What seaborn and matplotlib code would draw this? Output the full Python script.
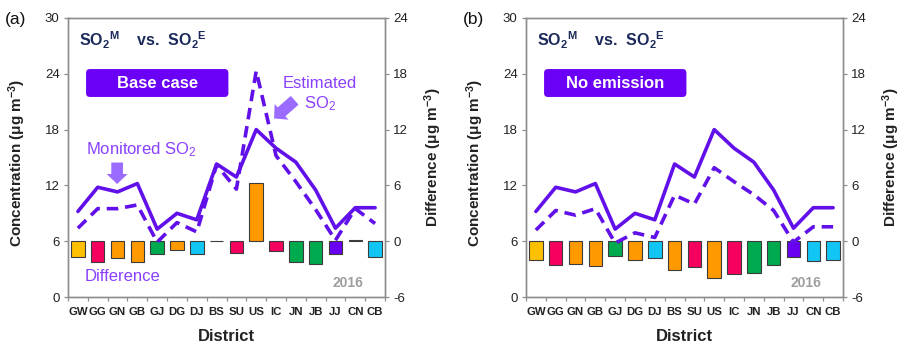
import numpy as np
import pandas as pd
import matplotlib
matplotlib.use("Agg")
import matplotlib.pyplot as plt
import seaborn as sns
from matplotlib.patches import FancyBboxPatch

# ---------------- data ----------------
districts = ["GW", "GG", "GN", "GB", "GJ", "DG", "DJ", "BS",
             "SU", "US", "IC", "JN", "JB", "JJ", "CN", "CB"]
monitored = [9.2, 11.8, 11.3, 12.2, 7.3, 9.0, 8.3, 14.3,
             12.9, 18.0, 16.0, 14.5, 11.5, 7.4, 9.6, 9.6]
estimated_base = [7.4, 9.5, 9.5, 9.9, 5.9, 8.0, 7.0, 14.2,
                  11.6, 24.3, 15.2, 12.4, 9.4, 6.1, 9.5, 7.9]
estimated_noemis = [7.2, 9.3, 8.8, 9.5, 5.8, 6.9, 6.4, 10.95,
                    10.0, 13.9, 12.4, 11.0, 9.3, 5.9, 7.55, 7.55]
diff_base = [-1.75, -2.2, -1.85, -2.25, -1.4, -0.95, -1.4, 0.07,
             -1.3, 6.3, -1.0, -2.25, -2.4, -1.4, 0.12, -1.75]
diff_noemis = [-2.0, -2.6, -2.5, -2.7, -1.6, -2.0, -1.85, -3.15,
               -2.75, -3.95, -3.55, -3.4, -2.6, -1.7, -2.1, -2.0]
bar_colors = ["#FFC000", "#F5005F", "#FF9900", "#FF9900", "#00AA4F", "#FF9900",
              "#11C6F5", "#FF9900", "#F5005F", "#FF9900", "#F5005F", "#00AA4F",
              "#00AA4F", "#6A00F2", "#11C6F5", "#11C6F5"]
conc_ticks = [0, 6, 12, 18, 24, 30]
diff_ticks = [-6, 0, 6, 12, 18, 24]
panel_tags = ["(a)", "(b)"]
case_labels = ["Base case", "No emission"]

# ---------------- style ----------------
sns.set_theme(style="white")
plt.rcParams["font.family"] = ["Liberation Sans", "DejaVu Sans"]
plt.rcParams["mathtext.fontset"] = "custom"
plt.rcParams["mathtext.rm"] = "Liberation Sans"
plt.rcParams["mathtext.bf"] = "Liberation Sans:bold"
plt.rcParams["mathtext.default"] = "regular"
plt.rcParams["axes.unicode_minus"] = False

LINE = "#6110EA"
BOX = "#6A00F5"
LIGHT = "#8A40FF"
ARROW = "#9B6BFF"
NAVY = "#1B2A5A"
SPINE = "#8E8E8E"

W, H = 902, 349
fig = plt.figure(figsize=(W / 100, H / 100), dpi=100)
fig.patch.set_facecolor("white")


def px_axes(left, top, right, bottom):
    return [left / W, 1 - bottom / H, (right - left) / W, (bottom - top) / H]


def draw_panel(ax, est, diff, case_label, tag, annotate):
    ax2 = ax.twinx()
    df_b = pd.DataFrame({"District": districts, "Difference": diff})
    sns.barplot(data=df_b, x="District", y="Difference", hue="District",
                order=districts, hue_order=districts,
                palette=dict(zip(districts, bar_colors)), width=0.68,
                saturation=1, edgecolor="#3c3c3c", linewidth=0.8,
                legend=False, ax=ax2)
    pos = np.arange(len(districts))
    df_l = pd.DataFrame({"pos": pos, "Monitored": monitored, "Estimated": est})
    sns.lineplot(data=df_l, x="pos", y="Monitored", color=LINE, lw=2.6,
                 sort=False, ax=ax)
    sns.lineplot(data=df_l, x="pos", y="Estimated", color=LINE, lw=2.6,
                 linestyle=(0, (3.2, 1.9)), sort=False, ax=ax)
    ax.set_zorder(ax2.get_zorder() + 1)
    ax.patch.set_visible(False)

    ax.set_xlim(-0.5, len(districts) - 0.5)
    ax.set_ylim(0, 30)
    ax2.set_ylim(-6, 24)
    ax.set_yticks(conc_ticks)
    ax2.set_yticks(diff_ticks)
    ax.set_xticks(pos)
    ax.set_xticklabels(districts, fontweight="bold", fontsize=8.2, color="#222222")
    ax.set_xticks(np.arange(-0.5, len(districts), 1), minor=True)
    ax.tick_params(axis="x", which="major", length=0, pad=7.5)
    ax.tick_params(axis="x", which="minor", length=3, width=0.9,
                   direction="out", color=SPINE, bottom=True)
    ax.tick_params(axis="y", length=3, width=0.9, direction="out",
                   color=SPINE, labelsize=9.5, pad=3, labelcolor="#222222", left=True)
    ax2.tick_params(axis="y", length=3, width=0.9, direction="out",
                    color=SPINE, labelsize=9.5, pad=3, labelcolor="#222222", right=True)
    for a in (ax, ax2):
        for s in a.spines.values():
            s.set_color(SPINE)
            s.set_linewidth(1.0)
            s.set_visible(True)

    ax.set_xlabel("District", fontweight="bold", fontsize=12, color="#222222")
    ax.xaxis.set_label_coords(0.5, -0.115)
    ax.set_ylabel("Concentration (μg m$^{-3}$)", fontweight="bold",
                  fontsize=11, color="#222222")
    ax.yaxis.set_label_coords(-0.126, 0.48)
    ax2.set_ylabel("Difference (μg m$^{-3}$)", fontweight="bold",
                   fontsize=11, color="#222222")
    ax2.yaxis.set_label_coords(1.117, 0.5)
    ax2.set_xlabel("")

    # title
    ax.text(0.035, 0.92, "SO$_2{}^M$    vs.  SO$_2{}^E$", transform=ax.transAxes,
            fontsize=11.5, fontweight="bold", color=NAVY, va="center", ha="left")
    # case box
    box = FancyBboxPatch((0.057, 0.717), 0.449, 0.100,
                         boxstyle="round,pad=0,rounding_size=0.012",
                         mutation_aspect=317 / 279, transform=ax.transAxes,
                         fc=BOX, ec="none", zorder=5)
    ax.add_patch(box)
    ax.text(0.281, 0.767, case_label, transform=ax.transAxes, fontsize=12,
            fontweight="bold", color="white", ha="center", va="center", zorder=6)
    ax.text(0.883, 0.05, "2016", transform=ax.transAxes, fontsize=10,
            fontweight="bold", color="#9E9E9E", ha="center", va="center")
    ax.text(-0.2, 1.02, tag, transform=ax.transAxes, fontsize=12.5,
            color="#111111", ha="left", va="top")

    if annotate:
        ax.text(0.057, 0.527, "Monitored SO$_2$", transform=ax.transAxes,
                fontsize=12, color=LIGHT, ha="left", va="center")
        ax.text(0.795, 0.767, "Estimated", transform=ax.transAxes,
                fontsize=12, color=LIGHT, ha="center", va="center")
        ax.text(0.795, 0.693, "SO$_2$", transform=ax.transAxes,
                fontsize=12, color=LIGHT, ha="center", va="center")
        ax.text(0.054, 0.073, "Difference", transform=ax.transAxes,
                fontsize=12, color=LIGHT, ha="left", va="center")
        style = "simple,head_length=0.6,head_width=1.25,tail_width=0.7"
        ax.annotate("", xy=(0.155, 0.405), xytext=(0.155, 0.482),
                    xycoords="axes fraction", textcoords="axes fraction",
                    arrowprops=dict(arrowstyle=style, fc=ARROW, ec="none",
                                    shrinkA=0, shrinkB=0, mutation_scale=12))
        ax.annotate("", xy=(0.650, 0.640), xytext=(0.715, 0.705),
                    xycoords="axes fraction", textcoords="axes fraction",
                    arrowprops=dict(arrowstyle=style, fc=ARROW, ec="none",
                                    shrinkA=0, shrinkB=0, mutation_scale=12))


axA = fig.add_axes(px_axes(68, 18, 385, 297))
axB = fig.add_axes(px_axes(526, 18, 843, 297))
draw_panel(axA, estimated_base, diff_base, case_labels[0], panel_tags[0], True)
draw_panel(axB, estimated_noemis, diff_noemis, case_labels[1], panel_tags[1], False)

fig.savefig("out.png", dpi=100, facecolor="white")
